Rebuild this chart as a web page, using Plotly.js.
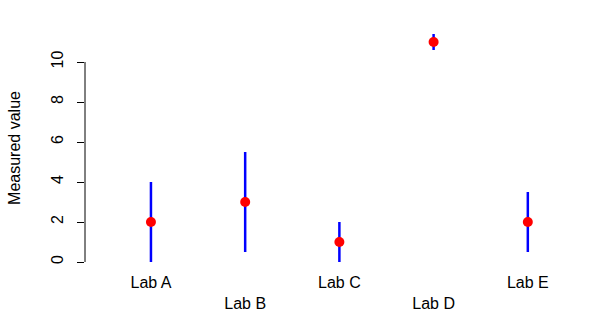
<!DOCTYPE html>
<html>
<head>
<meta charset="utf-8">
<script src="https://cdn.plot.ly/plotly-3.0.1.min.js"></script>
<style>html,body{margin:0;padding:0;background:#fff;}#chart{width:590px;height:328px;}</style>
</head>
<body>
<div id="chart"></div>
<script>
var labs = ["Lab A", "Lab B", "Lab C", "Lab D", "Lab E"];
var values = [2, 3, 1, 11, 2];
var errors = [2, 2.5, 1, 0.4, 1.5];
var yTicks = [0, 2, 4, 6, 8, 10];

var xIdx = labs.map(function(_, i){ return i + 1; });
var tickText = labs.map(function(l, i){ return i % 2 === 1 ? "<br>" + l : l; });

var trace = {
  x: xIdx,
  y: values,
  type: "scatter",
  mode: "markers",
  marker: {color: "#ff0000", size: 10},
  error_y: {type: "data", array: errors, symmetric: true, color: "#0000ff", thickness: 2.5, width: 0},
  hoverinfo: "skip"
};

var layout = {
  width: 590, height: 328,
  margin: {l: 85, r: 0, t: 25, b: 57},
  paper_bgcolor: "#ffffff", plot_bgcolor: "#ffffff",
  showlegend: false,
  font: {family: "Liberation Sans, Arial, sans-serif", size: 16, color: "#000"},
  xaxis: {
    range: [0.3, 5.66], showgrid: false, zeroline: false, showline: false,
    tickmode: "array", tickvals: xIdx, ticktext: tickText, ticks: "", ticklen: 0,
    tickfont: {size: 16}
  },
  yaxis: {
    range: [-0.45, 11.85], showgrid: false, zeroline: false, showline: false,
    tickmode: "array", tickvals: yTicks, ticktext: yTicks.map(String),
    ticks: "outside", ticklen: 7, tickwidth: 1, tickcolor: "#000",
    tickangle: -90, ticklabelstandoff: 8, tickfont: {size: 16},
    title: {text: "Measured value", font: {size: 16}, standoff: 23}
  },
  shapes: [{
    type: "line", xref: "paper", yref: "y", x0: 0, x1: 0,
    y0: yTicks[0], y1: yTicks[yTicks.length - 1],
    line: {color: "#000", width: 1}
  }]
};

Plotly.newPlot("chart", [trace], layout, {displayModeBar: false, staticPlot: true});
</script>
</body>
</html>
